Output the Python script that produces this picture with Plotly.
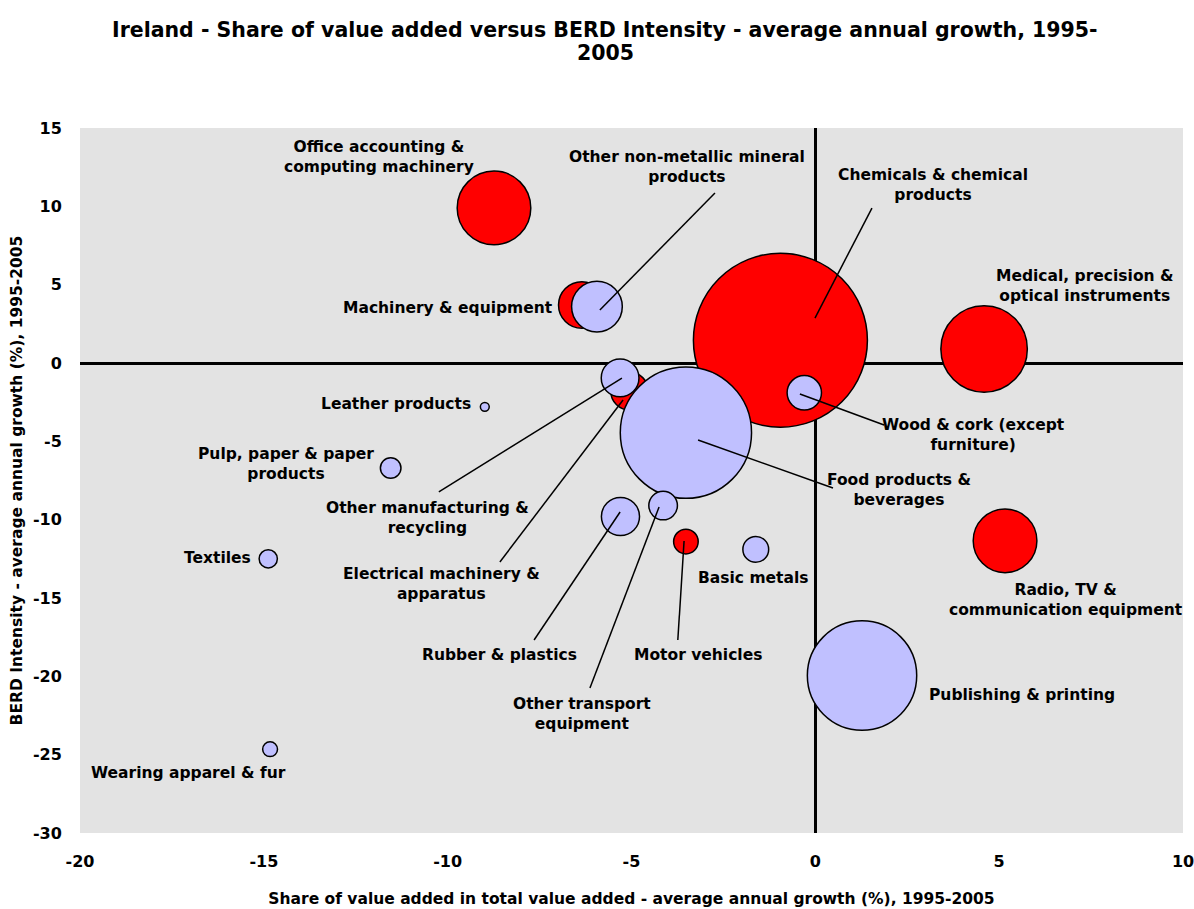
import plotly.graph_objects as go

# Industries, growth rates and bubble weights
sectors = [
    "Office accounting & computing machinery",
    "Machinery & equipment",
    "Other non-metallic mineral products",
    "Chemicals & chemical products",
    "Medical, precision & optical instruments",
    "Wood & cork (except furniture)",
    "Leather products",
    "Other manufacturing & recycling",
    "Electrical machinery & apparatus",
    "Food products & beverages",
    "Pulp, paper & paper products",
    "Rubber & plastics",
    "Other transport equipment",
    "Motor vehicles",
    "Basic metals",
    "Textiles",
    "Radio, TV & communication equipment",
    "Publishing & printing",
    "Wearing apparel & fur",
]
va_share_growth = [-8.74, -6.35, -5.94, -0.95, 4.59, -0.30, -8.99, -5.31, -5.05,
                   -3.52, -11.55, -5.30, -4.14, -3.52, -1.62, -14.88, 5.16, 1.27, -14.83]
berd_intensity_growth = [9.9, 3.7, 3.6, 1.45, 0.9, -1.9, -2.8, -0.95, -1.8,
                         -4.45, -6.7, -9.8, -9.1, -11.4, -11.9, -12.5, -11.35, -19.95, -24.65]
bubble_weight = [17.9, 7.2, 8.5, 100.0, 24.7, 3.9, 0.26, 4.7, 4.7,
                 56.9, 1.4, 4.8, 2.7, 2.0, 2.2, 1.1, 13.4, 39.5, 0.73]
# True = red group, False = lavender group
high_group = [True, True, False, True, True, False, False, False, True,
              False, False, False, False, True, False, False, True, False, False]

x_ticks = [-20, -15, -10, -5, 0, 5, 10]
x_tick_text = ["-20", "-15", "-10", "-5", "0", "5", "10"]
y_ticks = [-30, -25, -20, -15, -10, -5, 0, 5, 10, 15]
y_tick_text = ["-30", "-25", "-20", "-15", "-10", "-5", "0", "5", "10", "15"]

# Label text and placement (data coordinates)
label_text = [
    "Office accounting &<br>computing machinery",
    "Machinery & equipment",
    "Other non-metallic mineral<br>products",
    "Chemicals & chemical<br>products",
    "Medical, precision &<br>optical instruments",
    "Wood & cork (except<br>furniture)",
    "Leather products",
    "Other manufacturing &<br>recycling",
    "Electrical machinery &<br>apparatus",
    "Food products &<br>beverages",
    "Pulp, paper & paper<br>products",
    "Rubber & plastics",
    "Other transport<br>equipment",
    "Motor vehicles",
    "Basic metals",
    "Textiles",
    "Radio, TV &<br>communication equipment",
    "Publishing & printing",
    "Wearing apparel & fur",
]
label_pos = [
    (-11.87, 13.15), (-9.99, 3.51), (-3.48, 12.51), (3.20, 11.36), (7.31, 4.92),
    (4.30, -4.60), (-11.41, -2.62), (-10.56, -9.89), (-10.18, -14.11), (2.28, -8.11),
    (-14.40, -6.45), (-8.58, -18.64), (-6.35, -22.40), (-3.19, -18.64), (-1.69, -13.72),
    (-16.27, -12.45), (6.83, -15.13), (5.62, -21.19), (-17.06, -26.17),
]
# Leader lines: (sector index, start near bubble, end near label)
leaders = [
    (2, (-5.86, 3.38), (-2.73, 10.85)),
    (3, (-0.01, 2.87), (1.54, 9.89)),
    (5, (-0.42, -1.98), (1.87, -3.96)),
    (9, (-3.19, -4.91), (0.48, -7.98)),
    (7, (-5.26, -0.96), (-10.24, -8.23)),
    (8, (-5.23, -2.36), (-8.58, -12.70)),
    (11, (-5.31, -9.51), (-7.65, -17.68)),
    (12, (-4.25, -9.19), (-6.13, -20.74)),
    (13, (-3.57, -11.36), (-3.74, -17.68)),
]

FONT = "DejaVu Sans, Liberation Sans, Arial, sans-serif"
max_diam = 174
# plotly area mode: diameter = sqrt(2 * size / sizeref) in practice
sizeref = 2 * max(bubble_weight) / max_diam ** 2

fig = go.Figure()
for flag, colour in [(True, "#FF0000"), (False, "#C0C0FF")]:
    idx = [i for i, h in enumerate(high_group) if h == flag]
    fig.add_trace(go.Scatter(
        x=[va_share_growth[i] for i in idx],
        y=[berd_intensity_growth[i] for i in idx],
        text=[sectors[i] for i in idx],
        mode="markers",
        marker=dict(
            size=[bubble_weight[i] for i in idx],
            sizemode="area",
            sizeref=sizeref,
            color=colour,
            opacity=1,
            line=dict(color="black", width=1.5),
        ),
        hoverinfo="text",
        showlegend=False,
    ))

for _, (x0, y0), (x1, y1) in leaders:
    fig.add_shape(type="line", x0=x0, y0=y0, x1=x1, y1=y1, xref="x", yref="y",
                  line=dict(color="black", width=1.5), layer="above")

label_font = dict(family=FONT, size=15.5, color="black", weight="bold")
for txt, (lx, ly) in zip(label_text, label_pos):
    fig.add_annotation(x=lx, y=ly, text=txt, showarrow=False, xref="x", yref="y",
                       align="center", font=label_font,
                       xanchor="center", yanchor="middle")

# Two-line chart title
title_font = dict(family=FONT, size=20.5, color="black", weight="bold")
for line_text, ypx in [("Ireland - Share of value added versus BERD Intensity - average annual growth, 1995-", 30),
                       ("2005", 53)]:
    fig.add_annotation(x=0.476, y=(833 - ypx) / 705, xref="paper", yref="paper",
                       text=line_text, showarrow=False, font=title_font,
                       xanchor="center", yanchor="middle")

axis_font = dict(family=FONT, size=16, color="black", weight="bold")
title_axis_font = dict(family=FONT, size=15.5, color="black", weight="bold")
fig.update_layout(
    width=1194, height=909,
    margin=dict(l=80, r=11, t=128, b=76, autoexpand=False),
    paper_bgcolor="white",
    plot_bgcolor="#E3E3E3",
    xaxis=dict(
        range=[-20, 10], tickvals=x_ticks, ticktext=x_tick_text, automargin=False,
        ticklabeloverflow="allow",
        showgrid=False, zeroline=True, zerolinecolor="black", zerolinewidth=2.5,
        showline=False, ticks="outside", ticklen=14, tickcolor="rgba(0,0,0,0)",
        tickfont=axis_font,
        title=dict(text="Share of value added in total value added - average annual growth (%), 1995-2005",
                   font=title_axis_font, standoff=22),
    ),
    yaxis=dict(
        range=[-30, 15], tickvals=y_ticks, ticktext=y_tick_text, automargin=False,
        ticklabeloverflow="allow",
        showgrid=False, zeroline=True, zerolinecolor="black", zerolinewidth=2.5,
        showline=False, ticks="outside", ticklen=14, tickcolor="rgba(0,0,0,0)",
        tickfont=axis_font,
        title=dict(text="BERD Intensity - average annual growth (%), 1995-2005",
                   font=title_axis_font, standoff=6),
    ),
)

fig.write_html("out.html")
